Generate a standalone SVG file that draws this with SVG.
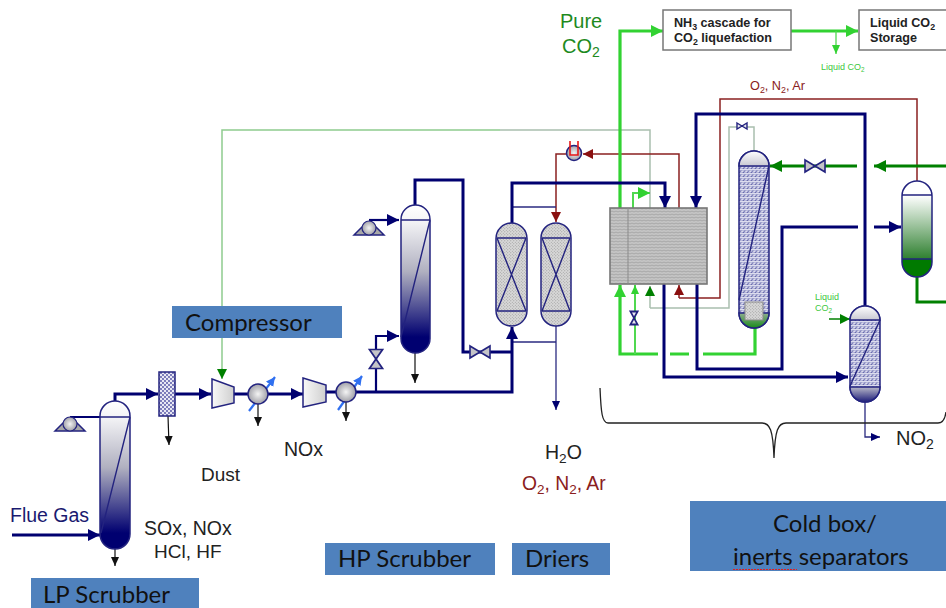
<svg xmlns="http://www.w3.org/2000/svg" width="946" height="608" viewBox="0 0 946 608">
<style>
text{font-family:"Liberation Sans",Arial,sans-serif;fill:#222}
.lab{font-family:Lato,"Open Sans","Noto Sans",sans-serif;font-size:24px;fill:#111}
.band{fill:#4f81bd}
.n{fill:none;stroke:#000070;stroke-width:3}
.nm{fill:none;stroke:#000070;stroke-width:2.2}
.nt{fill:none;stroke:#2a2a80;stroke-width:1.3}
.g{fill:none;stroke:#32d232;stroke-width:3.2}
.gt{fill:none;stroke:#50d850;stroke-width:2}
.dg{fill:none;stroke:#008000;stroke-width:3}
.gg{fill:none;stroke:#a9bfae;stroke-width:1.5}
.lg{fill:none;stroke:#8fcb8f;stroke-width:1.5}
.r{fill:none;stroke:#8a2020;stroke-width:1.5}
.k{fill:none;stroke:#111;stroke-width:1.2}
.sh{stroke:#23237f;stroke-width:1.5}
.in{fill:none;stroke:#23237f;stroke-width:1.4}
.sub{font-size:70%}
</style>
<defs>
<marker id="an" markerUnits="userSpaceOnUse" markerWidth="14" markerHeight="14" refX="12" refY="7" orient="auto"><path d="M0,1L12,7L0,13Z" fill="#000070"/></marker>
<marker id="ans" markerUnits="userSpaceOnUse" markerWidth="10" markerHeight="10" refX="9" refY="5" orient="auto"><path d="M0,1L9,5L0,9Z" fill="#000070"/></marker>
<marker id="ag" markerUnits="userSpaceOnUse" markerWidth="14" markerHeight="14" refX="12" refY="7" orient="auto"><path d="M0,1L12,7L0,13Z" fill="#32d232"/></marker>
<marker id="ads" markerUnits="userSpaceOnUse" markerWidth="10" markerHeight="10" refX="9" refY="5" orient="auto"><path d="M0,1L9,5L0,9Z" fill="#32d232"/></marker>
<marker id="adg" markerUnits="userSpaceOnUse" markerWidth="12" markerHeight="12" refX="10" refY="6" orient="auto"><path d="M0,1L10,6L0,11Z" fill="#008000"/></marker>
<marker id="adl" markerUnits="userSpaceOnUse" markerWidth="14" markerHeight="14" refX="12" refY="7" orient="auto"><path d="M0,1L12,7L0,13Z" fill="#008000"/></marker>
<marker id="ar" markerUnits="userSpaceOnUse" markerWidth="12" markerHeight="12" refX="10" refY="6" orient="auto"><path d="M0,1L10,6L0,11Z" fill="#8a0f0f"/></marker>
<marker id="ak" markerUnits="userSpaceOnUse" markerWidth="10" markerHeight="10" refX="9" refY="5" orient="auto"><path d="M0,1L9,5L0,9Z" fill="#111"/></marker>
<marker id="ab" markerUnits="userSpaceOnUse" markerWidth="10" markerHeight="10" refX="9" refY="5" orient="auto"><path d="M0,0.5L9,5L0,9.5Z" fill="#3070f0"/></marker>
<linearGradient id="col" x1="0" y1="0" x2="0" y2="1"><stop offset="0" stop-color="#ffffff"/><stop offset="0.108" stop-color="#f4f4f6"/><stop offset="0.45" stop-color="#b0b0c0"/><stop offset="0.892" stop-color="#000070"/><stop offset="1" stop-color="#000070"/></linearGradient>
<linearGradient id="colg" x1="0" y1="0" x2="0" y2="1"><stop offset="0" stop-color="#ffffff"/><stop offset="0.15" stop-color="#ffffff"/><stop offset="0.81" stop-color="#2f8030"/><stop offset="0.812" stop-color="#007a00"/><stop offset="1" stop-color="#007a00"/></linearGradient>
<linearGradient id="cap" x1="0" y1="0" x2="0" y2="1"><stop offset="0" stop-color="#ffffff"/><stop offset="1" stop-color="#c8c8d2"/></linearGradient>
<linearGradient id="capg" x1="0" y1="0" x2="0" y2="1"><stop offset="0" stop-color="#8fae90"/><stop offset="1" stop-color="#1a8a1a"/></linearGradient>
<linearGradient id="capn" x1="0" y1="0" x2="0" y2="1"><stop offset="0" stop-color="#b8b8c8"/><stop offset="1" stop-color="#1c1c78"/></linearGradient>
<linearGradient id="comp" x1="0" y1="0" x2="1" y2="0"><stop offset="0" stop-color="#f8f8f8"/><stop offset="1" stop-color="#cfcfcf"/></linearGradient>
<radialGradient id="ball" cx="0.5" cy="0.5" r="0.6"><stop offset="0" stop-color="#f4f4f4"/><stop offset="1" stop-color="#8f8f98"/></radialGradient>
<pattern id="dots" width="3" height="3" patternUnits="userSpaceOnUse"><rect width="3" height="3" fill="#d8d8d8"/><circle cx="0.8" cy="0.8" r="0.5" fill="#8a8a8a"/><circle cx="2.3" cy="2.3" r="0.5" fill="#9a9a9a"/></pattern>
<pattern id="hx" width="4" height="3" patternUnits="userSpaceOnUse"><rect width="4" height="3" fill="#c4c4c4"/><path d="M0,1L2,2L4,1" fill="none" stroke="#a0a0a0" stroke-width="0.8"/></pattern>
<pattern id="bh" width="4" height="4" patternUnits="userSpaceOnUse"><rect width="4" height="4" fill="#a9abd4"/><path d="M0,2L2,1L4,2M1,4L3,3" fill="none" stroke="#ffffff" stroke-width="0.8"/><circle cx="3.2" cy="0.6" r="0.5" fill="#3c3e90"/><circle cx="0.8" cy="3" r="0.5" fill="#3c3e90"/></pattern>
<pattern id="fil" width="4" height="4" patternUnits="userSpaceOnUse"><rect width="4" height="4" fill="#e8e8f4"/><circle cx="1" cy="1" r="0.9" fill="#4a4aa0"/><circle cx="3" cy="3" r="0.9" fill="#4a4aa0"/></pattern>
<g id="pump"><path d="M-15,7L-7,-1H7L15,7Z" fill="#a8a8a8" stroke="#23237f" stroke-width="1.5"/><circle cx="0" cy="0" r="7" fill="url(#ball)" stroke="#23237f" stroke-width="1.2"/></g>
<path id="vh" d="M-10,-6L10,6V-6L-10,6Z" fill="#c4c4c8" stroke="#23237f" stroke-width="1.6"/>
<path id="vsm" d="M-5,-3L5,3V-3L-5,3Z" fill="#e8e8ee" stroke="#23237f" stroke-width="1.4"/>
</defs>
<rect width="946" height="608" fill="#fff"/>

<g id="connectors">
<path class="gg" d="M650,208V130H500"/>
<path class="lg" d="M500,130H222V378"/>
<path d="M222,368V379" fill="none" stroke="#8fcb8f" stroke-width="1.5" marker-end="url(#adg)"/>
<path class="gg" d="M650,308V286" marker-end="url(#adg)"/>
<path class="gg" d="M650,308H729V127H737M747,127H754V152"/>
<path class="r" d="M679,298V285" marker-end="url(#ar)"/>
<path class="r" d="M679,298H720V99H917V181"/>
<path class="r" d="M679,208V154H583" marker-end="url(#ar)"/>
<path class="r" d="M566,154H556V222" marker-end="url(#ar)"/>
<path class="nt" d="M512,207H556"/>
<path class="nt" d="M512,342H556"/>
<path class="nt" d="M556,326V410" marker-end="url(#ans)"/>
<path class="g" d="M620,208V31H663" marker-end="url(#ag)"/>
<path class="gt" d="M633,208V193H650" marker-end="url(#ag)"/>
<path class="g" d="M791,31H858" marker-end="url(#ag)"/>
<path class="gt" d="M836,31V54" style="stroke-width:1.3" marker-end="url(#ads)"/>
<path class="g" d="M658,354H620V285" marker-end="url(#ag)"/>
<path class="gt" d="M635,354V285" marker-end="url(#ads)"/>
<path class="g" d="M670,354H689M703,354H755V328"/>
<path class="n" d="M115,401V394H158" marker-end="url(#an)"/>
<path class="n" d="M175,394H211" marker-end="url(#an)"/>
<path class="n" d="M234,394H303" marker-end="url(#an)"/>
<path class="n" d="M326,392H512V327" marker-end="url(#an)"/>
<path class="nm" d="M376,392V336H399" marker-end="url(#an)"/>
<path class="n" d="M415,205V180H463V352H512"/>
<path class="n" d="M512,223V183H665V208" marker-end="url(#an)"/>
<path class="n" d="M865,306V114H696V208" marker-end="url(#an)"/>
<path class="n" d="M664,284V377H848" marker-end="url(#an)"/>
<path class="n" d="M697,284V369H782V227H858"/>
<path class="n" d="M874,227H901" marker-end="url(#an)"/>
<path class="dg" d="M857,166H770" marker-end="url(#adl)"/>
<path class="dg" d="M946,166H874" marker-end="url(#adl)"/>
<path class="dg" d="M917,276V302H946"/>
<path class="dg" d="M829,319H850" style="stroke-width:1.5" marker-end="url(#adg)"/>
<path class="n" d="M12,535H100" marker-end="url(#an)"/>
<path class="nm" d="M70,417H113" marker-end="url(#an)"/>
<path class="nm" d="M369,220H399" marker-end="url(#an)"/>
<path class="k" d="M115,549V566" marker-end="url(#ak)"/>
<path class="k" d="M168,416L169,445" marker-end="url(#ak)"/>
<path class="k" d="M258,404V426" marker-end="url(#ak)"/>
<path class="k" d="M346,402V421" marker-end="url(#ak)"/>
<path class="k" d="M415,353V383" marker-end="url(#ak)"/>
<path class="nt" d="M865,402V437H880" marker-end="url(#ans)"/>
<path d="M600,388C601,412 602,423 608,423H762C770,423 773,430 774,458C775,430 778,423 786,423H938C943,423 945,419 946,412" fill="none" stroke="#222" stroke-width="1.3"/>
</g>

<g id="lp-scrubber"><rect class="sh" x="100" y="401" width="30" height="148" rx="15" fill="url(#col)"/><path class="in" d="M100,417H130M101,533L130,417"/></g>
<g id="lp-pump"><use href="#pump" x="70" y="424"/></g>
<g id="dust-filter"><rect class="sh" x="159" y="372" width="16" height="44" fill="url(#fil)"/></g>
<g id="compressor-1"><path class="sh" d="M212,379L234,387V403L212,408Z" fill="url(#comp)"/></g>
<g id="cooler-1"><path d="M249,411L275,377" fill="none" stroke="#3070f0" stroke-width="2.2" marker-end="url(#ab)"/><circle class="sh" cx="258" cy="394" r="10" fill="url(#ball)"/></g>
<g id="compressor-2"><path class="sh" d="M303,378L326,385V402L303,407Z" fill="url(#comp)"/></g>
<g id="cooler-2"><path d="M338,410L362,376" fill="none" stroke="#3070f0" stroke-width="2.2" marker-end="url(#ab)"/><circle class="sh" cx="346" cy="392" r="10" fill="url(#ball)"/></g>
<g id="valve-v1"><use href="#vh" transform="translate(376,359) rotate(90) scale(0.95,1.1)"/></g>
<g id="hp-pump"><use href="#pump" x="369" y="228"/></g>
<g id="hp-scrubber"><rect class="sh" x="401" y="205" width="29" height="148" rx="14.5" fill="url(#col)"/><path class="in" d="M401,220H430M401,337L430,220"/></g>
<g id="valve-v2"><use href="#vh" x="480" y="352"/></g>
<g id="drier-1"><rect class="sh" x="496" y="223" width="31" height="103" rx="15.5" fill="url(#dots)"/><path class="in" d="M497,238H526M497,311H526M497,238L526,311M526,238L497,311"/></g>
<g id="drier-2"><rect class="sh" x="541" y="223" width="30" height="103" rx="15" fill="url(#dots)"/><path class="in" d="M542,238H570M542,311H570M542,238L570,311M570,238L542,311"/></g>
<g id="heater"><circle cx="574" cy="153" r="7.5" fill="url(#ball)" stroke="#23237f" stroke-width="1.5"/><path d="M570,141V155H578V141" fill="none" stroke="#e81818" stroke-width="1.6"/></g>
<g id="main-exchanger"><rect x="610" y="208" width="97" height="76" fill="url(#hx)" stroke="#777" stroke-width="1.6"/><path d="M628,208V284" stroke="#8a8a8a" stroke-width="1" fill="none"/></g>
<g id="valve-v3"><use href="#vsm" transform="translate(634,318) rotate(90) scale(1.3,1.2)"/></g>
<g id="valve-v4"><use href="#vsm" x="742" y="126"/></g>
<g id="valve-v5"><use href="#vh" x="815" y="166"/></g>
<g id="cold-column"><rect class="sh" x="739" y="151" width="30" height="177" rx="15" fill="url(#bh)"/><path d="M739,166a15,15 0 0 1 30,0Z" fill="url(#cap)" class="sh"/><path d="M739,313a15,15 0 0 0 30,0Z" fill="url(#capg)" class="sh"/><path class="in" d="M769,166L739,300"/><rect x="745" y="302" width="18" height="18" fill="url(#dots)" stroke="#8a8a8a" stroke-width="1"/></g>
<g id="separator"><rect class="sh" x="902" y="181" width="30" height="96" rx="15" fill="url(#colg)"/><path class="in" d="M902,195H932M902,259H932"/></g>
<g id="no2-column"><rect class="sh" x="850" y="306" width="30" height="96" rx="15" fill="url(#bh)"/><path d="M850,320a15,14 0 0 1 30,0Z" fill="url(#cap)" class="sh"/><path d="M850,387a15,15 0 0 0 30,0Z" fill="url(#capn)" class="sh"/><path class="in" d="M880,320L850,386"/></g>
<g id="nh3-cascade"><rect x="663" y="10" width="128" height="40" fill="#fff" stroke="#777" stroke-width="1.5"/><text x="674" y="27" font-size="12.6" font-weight="700">NH<tspan class="sub" dy="3">3</tspan><tspan dy="-3"> cascade for</tspan></text><text x="674" y="42" font-size="12.6" font-weight="700">CO<tspan class="sub" dy="3">2</tspan><tspan dy="-3"> liquefaction</tspan></text></g>
<g id="co2-storage"><rect x="859" y="10" width="95" height="40" fill="#fff" stroke="#777" stroke-width="1.5"/><text x="870" y="27" font-size="12.6" font-weight="700">Liquid CO<tspan class="sub" dy="3">2</tspan></text><text x="870" y="42" font-size="12.6" font-weight="700">Storage</text></g>

<g id="labels">
<text x="560" y="28" font-size="20" style="fill:#1e8a1e">Pure</text>
<text x="562" y="53" font-size="20" style="fill:#1e8a1e">CO<tspan class="sub" dy="4">2</tspan></text>
<text x="821" y="70" font-size="9" style="fill:#40c840">Liquid CO<tspan class="sub" dy="2">2</tspan></text>
<text x="750" y="90" font-size="12.7" style="fill:#8a2020">O<tspan class="sub" dy="3">2</tspan><tspan dy="-3">, N</tspan><tspan class="sub" dy="3">2</tspan><tspan dy="-3">, Ar</tspan></text>
<text x="815" y="300" font-size="9" style="fill:#40c840">Liquid</text>
<text x="815" y="311" font-size="9" style="fill:#40c840">CO<tspan class="sub" dy="2">2</tspan></text>
<text x="10" y="522" font-size="19.5" style="fill:#1a1a70">Flue Gas</text>
<text x="144" y="535" font-size="19.5">SOx, NOx</text>
<text x="154" y="558" font-size="19">HCl, HF</text>
<text x="201" y="481" font-size="19">Dust</text>
<text x="284" y="456" font-size="19.5">NOx</text>
<text x="545" y="459" font-size="19.5">H<tspan class="sub" dy="4">2</tspan><tspan dy="-4">O</tspan></text>
<text x="522" y="490" font-size="19.3" style="fill:#8a2020">O<tspan class="sub" dy="4">2</tspan><tspan dy="-4">, N</tspan><tspan class="sub" dy="4">2</tspan><tspan dy="-4">, Ar</tspan></text>
<text x="896" y="445" font-size="20">NO<tspan class="sub" dy="4">2</tspan></text>
</g>

<g id="band-compressor"><rect class="band" x="172" y="306" width="170" height="32"/><text class="lab" x="185" y="331">Compressor</text></g>
<g id="band-lp"><rect class="band" x="31" y="578" width="168" height="30"/><text class="lab" x="43" y="603">LP Scrubber</text></g>
<g id="band-hp"><rect class="band" x="325" y="543" width="170" height="32"/><text class="lab" x="338" y="567">HP Scrubber</text></g>
<g id="band-driers"><rect class="band" x="512" y="543" width="98" height="32"/><text class="lab" x="525" y="567">Driers</text></g>
<g id="band-coldbox"><rect class="band" x="690" y="501" width="256" height="70"/><text class="lab" x="773" y="532">Cold box/</text><text class="lab" x="733" y="565">inerts separators</text><path d="M733,569.5h64" fill="none" stroke="#e02020" stroke-width="1.2" stroke-dasharray="2 1"/></g>
</svg>
